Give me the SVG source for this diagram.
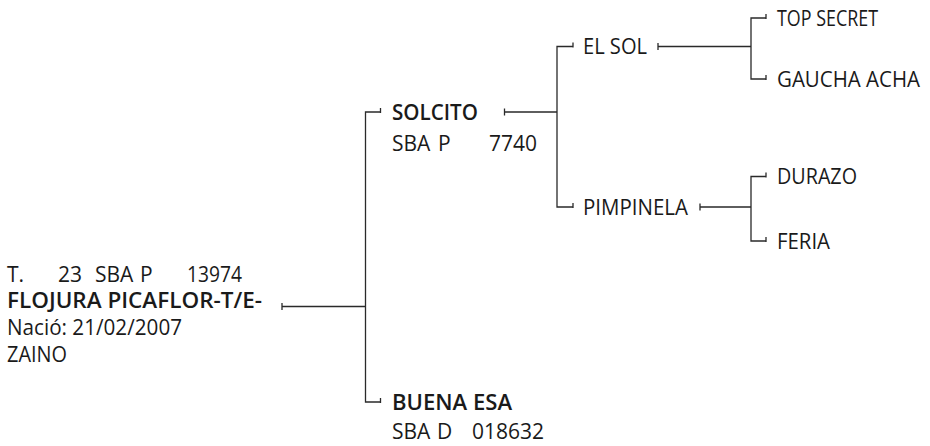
<svg xmlns="http://www.w3.org/2000/svg" width="930" height="446" viewBox="0 0 930 446">
<style>
text{font-family:"Open Sans","Noto Sans","Liberation Sans",sans-serif;font-size:21px;fill:#1a1a1a}
.b{font-weight:600}
.c{stroke:#2a2a2a;stroke-width:1.3;fill:none}
</style>
<rect width="930" height="446" fill="#fff"/>
<g id="connectors" class="c">
<path d="M282,306.5H365.5M282,303v7"/>
<path d="M380.5,112H365.5V402H380.5M380.5,108v5M380.5,398v5"/>
<path d="M504.5,112H557M504.5,108.5v7"/>
<path d="M573,46.5H557V207H573M573,42.5v5M573,203v5"/>
<path d="M658,46.5H751M658,43v7"/>
<path d="M766,18H751V79H766M766,14v5M766,75v5"/>
<path d="M700,207H751M700,203.5v7"/>
<path d="M766,176.5H751V241H766M766,172.5v5M766,237v5"/>
</g>
<g id="node-flojura">
<text y="282"><tspan x="7">T.</tspan><tspan x="58">23</tspan><tspan x="95">SBA</tspan><tspan x="140">P</tspan><tspan x="187" textLength="55" lengthAdjust="spacingAndGlyphs">13974</tspan></text>
<text class="b" x="7" y="308" textLength="255" lengthAdjust="spacingAndGlyphs">FLOJURA PICAFLOR-T/E-</text>
<text x="7" y="335" textLength="175" lengthAdjust="spacingAndGlyphs">Nació: 21/02/2007</text>
<text x="7" y="361.5" textLength="60" lengthAdjust="spacingAndGlyphs">ZAINO</text>
</g>
<g id="node-solcito">
<text class="b" x="392" y="119.5" textLength="86" lengthAdjust="spacingAndGlyphs">SOLCITO</text>
<text y="151"><tspan x="392">SBA</tspan><tspan x="438">P</tspan><tspan x="489">7740</tspan></text>
</g>
<g id="node-buena-esa">
<text class="b" x="392" y="409.5" textLength="120" lengthAdjust="spacingAndGlyphs">BUENA ESA</text>
<text y="439"><tspan x="392">SBA</tspan><tspan x="437">D</tspan><tspan x="472">018632</tspan></text>
</g>
<g id="node-el-sol"><text x="583" y="54" textLength="64" lengthAdjust="spacingAndGlyphs">EL SOL</text></g>
<g id="node-pimpinela"><text x="583" y="214.5" textLength="105" lengthAdjust="spacingAndGlyphs">PIMPINELA</text></g>
<g id="node-top-secret"><text x="777" y="25.5" textLength="101" lengthAdjust="spacingAndGlyphs">TOP SECRET</text></g>
<g id="node-gaucha-acha"><text x="777" y="86.5" textLength="143" lengthAdjust="spacingAndGlyphs">GAUCHA ACHA</text></g>
<g id="node-durazo"><text x="777" y="184" textLength="80" lengthAdjust="spacingAndGlyphs">DURAZO</text></g>
<g id="node-feria"><text x="777" y="248.5" textLength="53" lengthAdjust="spacingAndGlyphs">FERIA</text></g>
</svg>
